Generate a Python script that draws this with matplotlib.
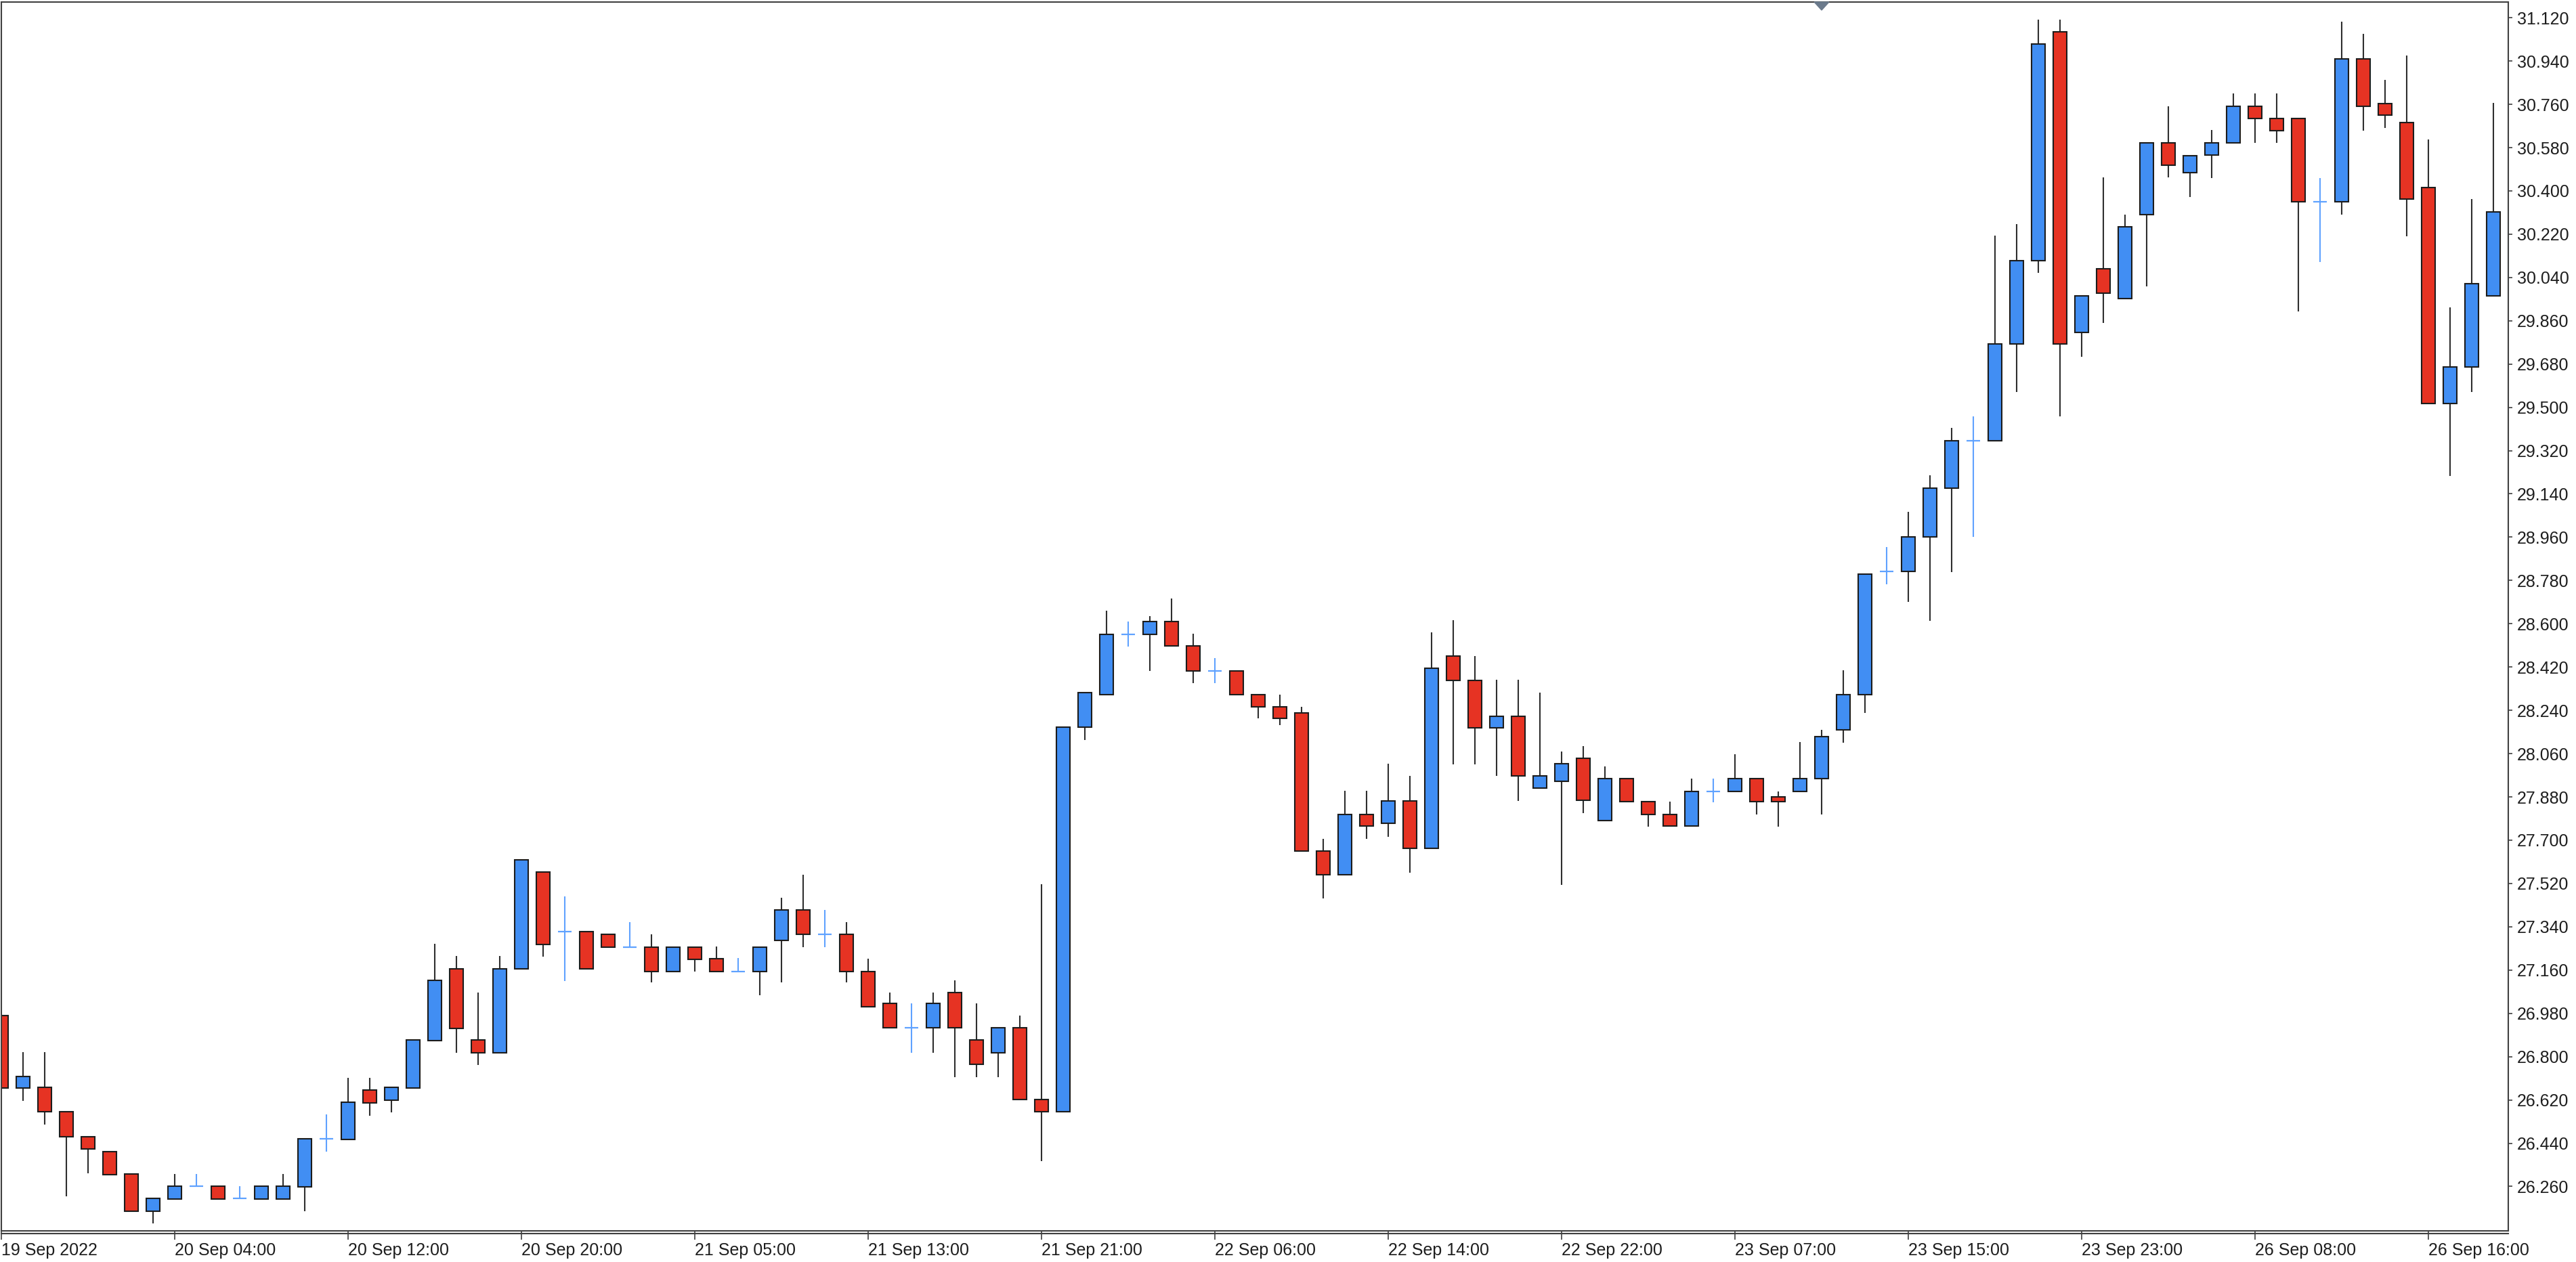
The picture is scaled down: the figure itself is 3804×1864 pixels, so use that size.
import matplotlib
matplotlib.use("Agg")
import matplotlib.pyplot as plt
import matplotlib.transforms as mtransforms
from matplotlib.patches import Polygon
from matplotlib.lines import Line2D

# hourly XAGUSD-style candles (bar 0 = 19 Sep 2022)
opens = [26.970, 26.670, 26.672, 26.570, 26.468, 26.406, 26.312, 26.158, 26.208, 26.260,
         26.260, 26.210, 26.208, 26.208, 26.258, 26.458, 26.456, 26.661, 26.619, 26.670,
         26.867, 27.166, 26.869, 26.817, 27.166, 27.568, 27.319, 27.319, 27.308, 27.256,
         27.256, 27.155, 27.256, 27.207, 27.155, 27.155, 27.284, 27.409, 27.308, 27.308,
         27.155, 27.021, 26.919, 26.919, 27.067, 26.869, 26.817, 26.920, 26.621, 26.570,
         28.169, 28.304, 28.557, 28.557, 28.609, 28.507, 28.405, 28.405, 28.304, 28.254,
         28.230, 27.656, 27.555, 27.808, 27.769, 27.864, 27.667, 28.467, 28.365, 28.168,
         28.214, 27.916, 27.944, 28.040, 27.781, 27.956, 27.860, 27.808, 27.758, 27.904,
         27.904, 27.956, 27.881, 27.904, 27.956, 28.158, 28.306, 28.817, 28.817, 28.962,
         29.165, 29.362, 29.362, 29.763, 30.110, 31.062, 29.812, 30.075, 29.953, 30.302,
         30.599, 30.477, 30.549, 30.601, 30.753, 30.701, 30.701, 30.354, 30.354, 30.948,
         30.764, 30.685, 30.414, 29.515, 29.667, 29.964]
highs = [26.970, 26.820, 26.820, 26.570, 26.468, 26.406, 26.312, 26.210, 26.312, 26.312,
         26.260, 26.262, 26.260, 26.312, 26.458, 26.560, 26.711, 26.711, 26.672, 26.869,
         27.268, 27.218, 27.067, 27.218, 27.618, 27.568, 27.467, 27.319, 27.308, 27.360,
         27.309, 27.256, 27.256, 27.258, 27.209, 27.256, 27.461, 27.557, 27.410, 27.360,
         27.207, 27.067, 27.021, 27.067, 27.118, 27.021, 26.920, 26.972, 27.518, 28.169,
         28.315, 28.654, 28.609, 28.633, 28.704, 28.559, 28.457, 28.405, 28.304, 28.304,
         28.254, 27.706, 27.905, 27.905, 28.019, 27.967, 28.564, 28.615, 28.467, 28.367,
         28.367, 28.315, 28.069, 28.090, 28.007, 27.956, 27.860, 27.860, 27.956, 27.956,
         28.057, 27.956, 27.904, 28.109, 28.158, 28.406, 28.805, 28.919, 29.066, 29.217,
         29.414, 29.463, 30.213, 30.263, 31.113, 31.113, 29.963, 30.457, 30.302, 30.599,
         30.752, 30.547, 30.652, 30.806, 30.806, 30.806, 30.701, 30.454, 31.103, 31.052,
         30.861, 30.963, 30.613, 29.915, 30.365, 30.766]
lows = [26.670, 26.617, 26.518, 26.220, 26.315, 26.310, 26.158, 26.107, 26.208, 26.260,
        26.208, 26.210, 26.208, 26.208, 26.156, 26.404, 26.456, 26.555, 26.567, 26.670,
        26.867, 26.815, 26.765, 26.817, 27.166, 27.215, 27.114, 27.166, 27.256, 27.256,
        27.108, 27.155, 27.153, 27.155, 27.155, 27.056, 27.108, 27.254, 27.254, 27.108,
        27.008, 26.919, 26.817, 26.817, 26.715, 26.715, 26.715, 26.621, 26.366, 26.570,
        28.117, 28.304, 28.505, 28.405, 28.507, 28.354, 28.354, 28.304, 28.207, 28.178,
        27.656, 27.458, 27.555, 27.706, 27.715, 27.564, 27.667, 28.015, 28.015, 27.967,
        27.864, 27.916, 27.515, 27.813, 27.781, 27.860, 27.756, 27.758, 27.758, 27.858,
        27.904, 27.807, 27.756, 27.904, 27.807, 28.106, 28.229, 28.765, 28.692, 28.613,
        28.815, 28.962, 29.362, 29.565, 30.060, 29.463, 29.711, 29.850, 29.953, 30.002,
        30.455, 30.374, 30.453, 30.601, 30.599, 30.599, 29.900, 30.105, 30.302, 30.651,
        30.661, 30.210, 29.515, 29.215, 29.564, 29.964]
closes = [26.670, 26.718, 26.570, 26.468, 26.416, 26.310, 26.158, 26.210, 26.260, 26.260,
          26.208, 26.210, 26.260, 26.260, 26.458, 26.458, 26.610, 26.609, 26.672, 26.869,
          27.116, 26.917, 26.817, 27.166, 27.618, 27.266, 27.319, 27.166, 27.256, 27.256,
          27.155, 27.256, 27.205, 27.155, 27.155, 27.256, 27.409, 27.308, 27.308, 27.155,
          27.008, 26.919, 26.919, 27.021, 26.919, 26.767, 26.920, 26.621, 26.570, 28.169,
          28.315, 28.557, 28.557, 28.609, 28.507, 28.405, 28.405, 28.304, 28.254, 28.207,
          27.656, 27.555, 27.808, 27.758, 27.864, 27.667, 28.415, 28.365, 28.168, 28.214,
          27.967, 27.967, 28.017, 27.865, 27.956, 27.860, 27.808, 27.758, 27.904, 27.904,
          27.956, 27.860, 27.860, 27.956, 28.130, 28.306, 28.805, 28.817, 28.962, 29.165,
          29.362, 29.362, 29.763, 30.110, 31.010, 29.763, 29.963, 29.976, 30.252, 30.599,
          30.506, 30.547, 30.601, 30.753, 30.701, 30.651, 30.354, 30.354, 30.948, 30.753,
          30.714, 30.365, 29.515, 29.667, 30.015, 30.313]

time_labels = ["19 Sep 2022", "20 Sep 04:00", "20 Sep 12:00", "20 Sep 20:00",
               "21 Sep 05:00", "21 Sep 13:00", "21 Sep 21:00", "22 Sep 06:00",
               "22 Sep 14:00", "22 Sep 22:00", "23 Sep 07:00", "23 Sep 15:00",
               "23 Sep 23:00", "26 Sep 08:00", "26 Sep 16:00"]
time_label_bars = [0, 8, 16, 24, 32, 40, 48, 56, 64, 72, 80, 88, 96, 104, 112]
price_labels = ["26.260", "26.440", "26.620", "26.800", "26.980", "27.160", "27.340",
                "27.520", "27.700", "27.880", "28.060", "28.240", "28.420", "28.600",
                "28.780", "28.960", "29.140", "29.320", "29.500", "29.680", "29.860",
                "30.040", "30.220", "30.400", "30.580", "30.760", "30.940", "31.120"]
shift_bar = 84  # chart shift marker on top edge

UP = "#418ef3"
DOWN = "#e63323"
DOJI = "#5fa2ff"
EDGE = "#1c1c1c"
FRAME = "#404040"

plt.rcParams['font.family'] = ['Liberation Sans', 'DejaVu Sans']

W, H, DPI = 3804, 1864, 100
fig = plt.figure(figsize=(W / DPI, H / DPI), dpi=DPI)
left, right, top, bottom = 2, 3704, 3, 1818
ax = fig.add_axes([left / W, (H - bottom) / H, (right - left) / W, (bottom - top) / H])

bar_px = 32.0
ax.set_xlim(0, (right - left) / bar_px)
ax.set_ylim(26.0755, 31.1853)

xs = list(range(len(opens)))
body_w = 0.6

# wicks
for x, o, h, l, c in zip(xs, opens, highs, lows, closes):
    wick_col = DOJI if o == c else "#2e2e2e"
    ax.vlines(x, l, h, color=wick_col, linewidth=1.5, zorder=1)

# bodies
for x, o, c in zip(xs, opens, closes):
    if o == c:
        ax.hlines(o, x - body_w / 2 - 0.02, x + body_w / 2 + 0.02, color=DOJI, linewidth=1.6, zorder=2)
        continue
    col = UP if c > o else DOWN
    ax.bar(x, abs(c - o), width=body_w, bottom=min(o, c), color=col,
           edgecolor=EDGE, linewidth=1.5, zorder=2)

# axes styling (MT4 look)
for sp in ax.spines.values():
    sp.set_color(FRAME)
    sp.set_linewidth(1.5)

ax.yaxis.tick_right()
ax.set_yticks([float(v) for v in price_labels], price_labels)
ax.tick_params(axis='y', direction='out', length=4, width=1.2, pad=5,
               labelsize=18, color=FRAME, labelcolor="#1e1e1e")

ax.set_xticks(time_label_bars, time_labels)
ax.tick_params(axis='x', direction='out', length=9, width=1.2, pad=3,
               labelsize=18, color=FRAME, labelcolor="#1e1e1e")
for lbl in ax.get_xticklabels():
    lbl.set_horizontalalignment('left')

# second separator line under the chart
fig.add_artist(Line2D([left / W, right / W], [(H - 1822) / H] * 2, color=FRAME, linewidth=1.5))

# shift marker triangle
trans = mtransforms.blended_transform_factory(ax.transData, ax.transAxes)
th = 12 / (bottom - top)
tri = Polygon([[shift_bar - 0.34, 1.0], [shift_bar + 0.34, 1.0], [shift_bar, 1.0 - th]],
              closed=True, transform=trans, color="#6b7a8c", clip_on=False, zorder=5)
ax.add_patch(tri)

fig.savefig("out.png", dpi=DPI, facecolor="white")
